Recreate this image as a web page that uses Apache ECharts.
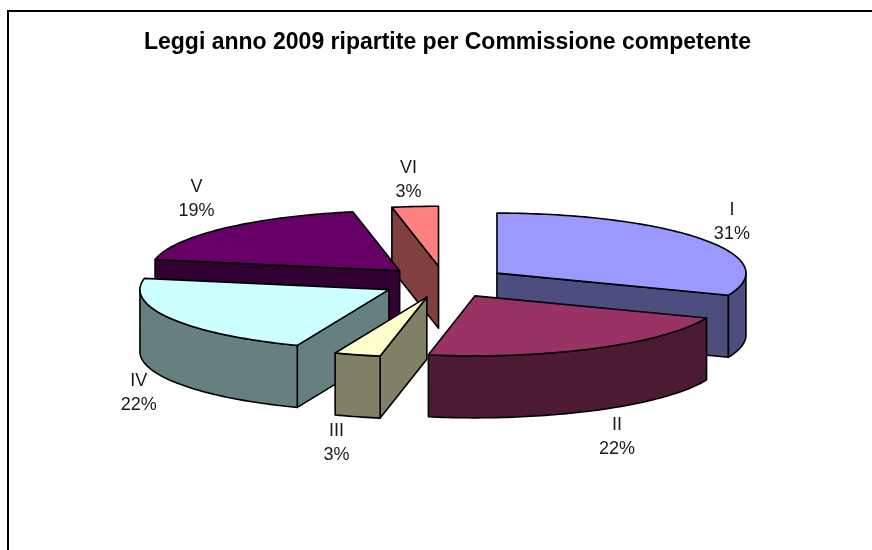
<!DOCTYPE html>
<html>
<head>
<meta charset="utf-8">
<title>Leggi anno 2009</title>
<script src="https://cdn.jsdelivr.net/npm/echarts@6/dist/echarts.min.js"></script>
<style>
html,body{margin:0;padding:0;background:#fff;}
#main{width:872px;height:550px;}
</style>
</head>
<body>
<div id="main"></div>
<script>
var categories=['I','II','III','IV','V','VI'];
var shares=[31,22,3,22,19,3];
var top_colors=['#9999ff','#993366','#ffffcc','#ccffff','#660066','#ff8080'];
var side_colors=['#4d4d80','#4d1a33','#808066','#668080','#330033','#804040'];

// pie drawn as a tilted ellipse, angles clockwise from 12 o'clock
var cx=444.5,cy=282,rx=249,ry=60,depth=62;
var explode_x=63.4,explode_y=15.8;
// back to front
var draw_order=[5,4,0,3,2,1];
// small hand nudges for the label boxes
var label_nudge=[[-1,-1],[-7,0],[-4,-3],[-2,-2],[3,-8],[-1,3]];

function start_angles(item){
	var list=[],sum=0,total=0,i;
	for(i=0;i<item.length;i++) total+=item[i];
	for(i=0;i<item.length;i++){
		list.push(sum/total*Math.PI*2);
		sum+=item[i];
	}
	list.push(Math.PI*2);
	return list;
}
var angles=start_angles(shares);

function rim_point(ox,oy,a,drop){
	return [ox+rx*Math.sin(a),oy-ry*Math.cos(a)+drop];
}
function arc_points(ox,oy,a0,a1,drop){
	var pts=[],n=Math.max(2,Math.ceil((a1-a0)/0.02));
	for(var i=0;i<=n;i++) pts.push(rim_point(ox,oy,a0+(a1-a0)*i/n,drop));
	return pts;
}
function poly(points,fill){
	return {
		type:'polygon',
		shape:{points:points},
		style:{fill:fill,stroke:'#000',lineWidth:1.6,lineJoin:'round'}
	};
}

function render_slice(params,api){
	var k=draw_order[params.dataIndex];
	var a0=angles[k],a1=angles[k+1],mid=(a0+a1)/2;
	var ox=cx+explode_x*Math.sin(mid),oy=cy-explode_y*Math.cos(mid);
	var side=side_colors[k],kids=[];

	// radial walls that face the viewer
	[[a0,Math.sin(a0)<0],[a1,Math.sin(a1)>0]].forEach(function(w){
		if(!w[1]) return;
		var p=rim_point(ox,oy,w[0],0);
		kids.push(poly([[ox,oy],p,[p[0],p[1]+depth],[ox,oy+depth]],side));
	});
	// outer wall, only the front half of the rim
	var f0=Math.max(a0,Math.PI/2),f1=Math.min(a1,Math.PI*1.5);
	if(f1>f0){
		var up=arc_points(ox,oy,f0,f1,0),down=arc_points(ox,oy,f0,f1,depth).reverse();
		kids.push(poly(up.concat(down),side));
	}
	// top face
	kids.push(poly([[ox,oy]].concat(arc_points(ox,oy,a0,a1,0)),top_colors[k]));
	return {type:'group',children:kids};
}

function label_graphics(){
	var out=[];
	for(var k=0;k<categories.length;k++){
		var mid=(angles[k]+angles[k+1])/2,s=Math.sin(mid),c=Math.cos(mid);
		var ox=cx+explode_x*s,oy=cy-explode_y*c;
		var p=rim_point(ox,oy,mid,c<0?depth:0);
		out.push({
			type:'text',
			x:p[0]+Math.max(-30,Math.min(30,s*60))+label_nudge[k][0],
			y:p[1]-c*30+label_nudge[k][1],
			z:10,
			style:{
				text:categories[k]+'\n'+shares[k]+'%',
				font:'18px "Liberation Sans",Arial,sans-serif',
				lineHeight:24,
				fill:'#1a1a1a',
				align:'center',
				verticalAlign:'middle'
			}
		});
	}
	return out;
}

var myChart=echarts.init(document.getElementById('main'));
var option={
	animation:false,
	backgroundColor:'#fff',
	title:{
		text:'Leggi anno 2009 ripartite per Commissione competente',
		left:442.5,
		top:26,
		textAlign:'center',
		textStyle:{
			color:'#000',
			fontFamily:'"Liberation Sans",Arial,sans-serif',
			fontSize:23,
			fontWeight:'bold'
		}
	},
	graphic:[{
		type:'polyline',
		shape:{points:[[8,550],[8,11],[872,11]]},
		style:{fill:'none',stroke:'#000',lineWidth:2}
	}].concat(label_graphics()),
	series:[{
		type:'custom',
		coordinateSystem:'none',
		silent:true,
		renderItem:render_slice,
		data:draw_order.map(function(k){return shares[k];})
	}]
};
myChart.setOption(option);
</script>
</body>
</html>
